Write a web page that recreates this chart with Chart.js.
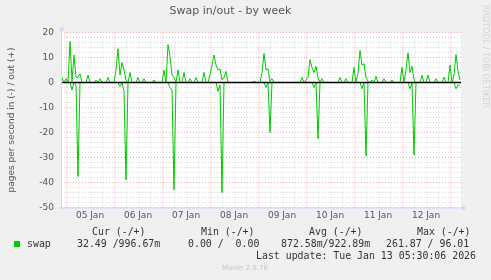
<!DOCTYPE html>
<html>
<head>
<meta charset="utf-8">
<script src="https://cdn.jsdelivr.net/npm/chart.js@4.4.1/dist/chart.umd.min.js"></script>
<style>
  html, body { margin: 0; padding: 0; background: #f0f0f0; }
</style>
</head>
<body>
<canvas id="swapChart" width="491" height="280"></canvas>
<script>
// hourly averages, first sample = Jan 4 22:00 (hour -2 from Jan 5 00:00)
const startHour = -2;

// pages per second out (+)
const swapOut = [
    2, 0,
    1.5, 0, 16.5, 0.5, 11, 2, 2, 3.5, 0, 0, 0, 3, 0, 0, 0, 1, 0, 1.5, 0, 0, 0, 2, 0, 0,
    0, 5, 13.5, 3, 8, 5, 1, 0, 4, 0, 0, 0, 2, 0, 0, 1.5, 0, 0, 0, 0, 1, 0, 0, 0,
    0, 5, 0, 15.2, 10.5, 3, 2, 0, 5, 0, 0, 4, 0, 0, 1.5, 0, 0, 2, 0, 0, 0, 4, 0, 0,
    3, 7, 11, 7, 5, 5.5, 1, 2, 4.5, 0, 0, 0, 0, 0, 0, 0, 0, 0, 0, 0, 0, 0, 0.5, 0,
    0, 0, 4, 11.6, 5, 5.5, 0.5, 1.5, 0, 0, 0, 0, 0, 0, 0, 0, 0, 0, 0, 0, 0, 0, 2, 0,
    1, 2, 9.2, 6, 4, 6.5, 2, 0, 1.5, 0, 0, 0, 0, 0, 0, 0, 0, 2, 0, 0, 1.5, 0, 0, 0,
    6, 0, 4, 12.8, 7, 7.5, 2, 0.5, 0, 1, 0, 2.5, 0, 0, 0, 1.5, 0, 0, 0, 1, 0, 0, 0, 0,
    6, 0, 5, 11.9, 4, 6.5, 1, 0, 0, 0, 2.9, 0, 0, 3, 0, 0, 0, 1.5, 0, 0, 0, 2.1, 0, 0,
    7, 0, 3, 11.2, 4.5, 1
];

// pages per second in (-), drawn below zero
const swapIn = [
    0, 0,
    0, 0, 0, 3, 0, 1, 37.6, 0, 0, 0, 0, 0, 0, 0, 0, 0, 0, 0, 0, 0, 0, 0, 0, 0,
    0, 0, 0, 1.5, 0, 3.5, 39, 0, 0, 0, 0, 0, 0, 0, 0, 0, 0, 0, 0, 0, 0, 0, 0, 0,
    0, 0, 0, 0, 2, 3, 43, 0, 0, 0, 0, 0, 0, 0, 0, 0, 0, 0, 0, 0, 0, 0, 0, 0,
    0, 0, 0, 0, 3.5, 1, 44, 0, 0, 0, 0, 0, 0, 0, 0, 0, 0, 0, 0, 0, 0, 0, 0, 0,
    0, 0, 0, 0, 2, 0, 20, 0, 0, 0, 0, 0, 0, 0, 0, 0, 0, 0, 0, 0, 0, 0, 0, 0,
    0, 0, 0, 0, 2, 0, 22.5, 0, 0, 0, 0, 0, 0, 0, 0, 0, 0, 0, 0, 0, 0, 0, 0, 0,
    0, 0, 0, 0, 2.5, 0, 29.5, 0, 0, 0, 0, 0, 0, 0, 0, 0, 0, 0, 0, 0, 0, 0, 0, 0,
    0, 0, 0, 0, 2.5, 0, 29, 0, 0, 0, 0, 0, 0, 0, 0, 0, 0, 0, 0, 0, 0, 0, 0, 0,
    0, 0, 0, 2.5, 1, 1
];

const dayLabels = ["05 Jan", "06 Jan", "07 Jan", "08 Jan", "09 Jan", "10 Jan", "11 Jan", "12 Jan"];
const yTickValues = [20, 10, 0, -10, -20, -30, -40, -50];

const legendHeads = ["Cur (-/+)", "Min (-/+)", "Avg (-/+)", "Max (-/+)"];
const legendStats = ["32.49 /996.67m", "0.00 /  0.00", "872.58m/922.89m", "261.87 / 96.01"];
const lastUpdate = "Last update: Tue Jan 13 05:30:06 2026";

const green = "#00cc00";
const axisBlue = "#cfd6f8";
const majorGrid = "rgba(225, 110, 110, 0.55)";
const minorGrid = "rgba(170, 170, 170, 0.45)";

const outPoints = swapOut.map((v, i) => ({ x: startHour + i, y: v }));
const inPoints = swapIn.map((v, i) => ({ x: startHour + i, y: -v }));

const muninDecor = {
    id: "muninDecor",
    beforeDraw(chart) {
        const { ctx, chartArea: a } = chart;
        ctx.save();
        ctx.fillStyle = "#f0f0f0";
        ctx.fillRect(0, 0, chart.width, chart.height);
        ctx.fillStyle = "#ffffff";
        ctx.fillRect(a.left, a.top, a.right - a.left, a.bottom - a.top);
        ctx.restore();
    },
    afterDatasetsDraw(chart) {
        const { ctx, chartArea: a } = chart;
        const y0 = chart.scales.y.getPixelForValue(0);
        ctx.save();
        ctx.strokeStyle = "#000000";
        ctx.lineWidth = 1.6;
        ctx.beginPath();
        ctx.moveTo(a.left, y0);
        ctx.lineTo(a.right, y0);
        ctx.stroke();
        ctx.restore();
    },
    afterDraw(chart) {
        const { ctx, chartArea: a } = chart;
        ctx.save();
        // axes with arrows
        ctx.strokeStyle = axisBlue;
        ctx.fillStyle = axisBlue;
        ctx.lineWidth = 1;
        ctx.beginPath();
        ctx.moveTo(a.left + 0.5, a.bottom + 2);
        ctx.lineTo(a.left + 0.5, a.top - 3);
        ctx.moveTo(a.left - 3, a.bottom + 0.5);
        ctx.lineTo(a.right + 2, a.bottom + 0.5);
        ctx.stroke();
        ctx.beginPath();
        ctx.moveTo(a.left - 2.5, a.top - 2);
        ctx.lineTo(a.left + 3.5, a.top - 2);
        ctx.lineTo(a.left + 0.5, a.top - 6);
        ctx.closePath();
        ctx.fill();
        ctx.beginPath();
        ctx.moveTo(a.right + 1, a.bottom - 2.5);
        ctx.lineTo(a.right + 1, a.bottom + 3.5);
        ctx.lineTo(a.right + 5, a.bottom + 0.5);
        ctx.closePath();
        ctx.fill();

        // legend block
        ctx.font = "9.9px 'DejaVu Sans Mono'";
        ctx.fillStyle = "#333333";
        ctx.textBaseline = "middle";
        ctx.textAlign = "left";
        const headX = [92, 201, 309, 417];
        const statX = [77, 188, 281, 386];
        legendHeads.forEach((t, i) => ctx.fillText(t, headX[i], 232.5));
        ctx.fillText("swap", 27, 244.5);
        legendStats.forEach((t, i) => ctx.fillText(t, statX[i], 244.5));
        ctx.fillText(lastUpdate, 256, 256.5);
        ctx.fillStyle = green;
        ctx.fillRect(14, 241, 6, 6);

        ctx.font = "7px 'DejaVu Sans'";
        ctx.fillStyle = "#c4c4c4";
        ctx.textAlign = "center";
        ctx.fillText("Munin 2.0.76", 245, 268.5);

        // rrdtool watermark
        ctx.translate(485.5, 5);
        ctx.rotate(Math.PI / 2);
        ctx.font = "8px 'DejaVu Sans'";
        ctx.fillStyle = "#d2d2d2";
        ctx.textAlign = "left";
        ctx.fillText("RRDTOOL / TOBI OETIKER", 0, 0);
        ctx.restore();
    }
};

Chart.defaults.font.family = "'DejaVu Sans'";
Chart.defaults.color = "#555555";

new Chart(document.getElementById("swapChart"), {
    type: "line",
    data: {
        datasets: [
            {
                label: "in",
                data: inPoints,
                borderColor: green,
                borderWidth: 1,
                pointRadius: 0,
                tension: 0
            }, {
                label: "out",
                data: outPoints,
                borderColor: green,
                borderWidth: 1,
                pointRadius: 0,
                tension: 0
            }
        ]
    },
    options: {
        responsive: false,
        animation: false,
        events: [],
        layout: { padding: { left: 0, right: 30, top: 0, bottom: 0 } },
        plugins: {
            legend: { display: false },
            tooltip: { enabled: false },
            title: {
                display: true,
                text: "Swap in/out - by week",
                color: "#555555",
                font: { size: 11, weight: "normal" },
                padding: { top: 5, bottom: 14.3 }
            }
        },
        scales: {
            x: {
                type: "linear",
                min: -2.5,
                max: 197.5,
                afterBuildTicks: function (scale) {
                    const ticks = [];
                    for (let h = 0; h <= dayLabels.length * 24; h += 6) ticks.push({ value: h });
                    scale.ticks = ticks;
                },
                afterFit: function (scale) { scale.height = 72.5; },
                grid: {
                    color: ctx => (ctx.tick && ctx.tick.value % 24 === 0) ? majorGrid : minorGrid,
                    drawTicks: false,
                    lineWidth: 1
                },
                border: { display: false, dash: [1, 2] },
                ticks: {
                    autoSkip: false,
                    maxRotation: 0,
                    padding: 3,
                    font: { size: 9 },
                    color: "#555555",
                    callback: function (value) {
                        if (value % 24 === 12) return dayLabels[(value - 12) / 24];
                        return "";
                    }
                }
            },
            y: {
                min: -50,
                max: 20,
                afterBuildTicks: function (scale) {
                    const ticks = [];
                    for (let v = -50; v <= 20; v += 2) ticks.push({ value: v });
                    scale.ticks = ticks;
                },
                afterFit: function (scale) { scale.width = 61; },
                grid: {
                    color: ctx => (ctx.tick && yTickValues.includes(ctx.tick.value)) ? majorGrid : minorGrid,
                    drawTicks: false,
                    lineWidth: 1
                },
                border: { display: false, dash: [1, 2] },
                title: {
                    display: true,
                    text: "pages per second in (-) / out (+)",
                    color: "#555555",
                    font: { size: 9 },
                    padding: { top: 6, bottom: 0 }
                },
                ticks: {
                    autoSkip: false,
                    padding: 7,
                    font: { size: 9 },
                    color: "#555555",
                    callback: function (value) {
                        return yTickValues.includes(value) ? String(value) : "";
                    }
                }
            }
        }
    },
    plugins: [muninDecor]
});
</script>
</body>
</html>
